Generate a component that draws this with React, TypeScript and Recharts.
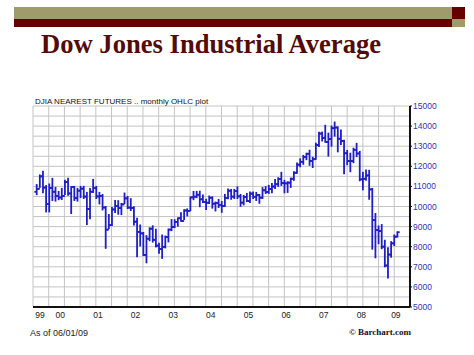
import { ComposedChart, Bar, XAxis, YAxis, CartesianGrid } from 'recharts';

// monthly OHLC, DJIA nearest futures, Nov 1999 - Jun 2009
const months = [
  '1999-11', '1999-12',
  '2000-01', '2000-02', '2000-03', '2000-04', '2000-05', '2000-06', '2000-07', '2000-08', '2000-09', '2000-10', '2000-11', '2000-12',
  '2001-01', '2001-02', '2001-03', '2001-04', '2001-05', '2001-06', '2001-07', '2001-08', '2001-09', '2001-10', '2001-11', '2001-12',
  '2002-01', '2002-02', '2002-03', '2002-04', '2002-05', '2002-06', '2002-07', '2002-08', '2002-09', '2002-10', '2002-11', '2002-12',
  '2003-01', '2003-02', '2003-03', '2003-04', '2003-05', '2003-06', '2003-07', '2003-08', '2003-09', '2003-10', '2003-11', '2003-12',
  '2004-01', '2004-02', '2004-03', '2004-04', '2004-05', '2004-06', '2004-07', '2004-08', '2004-09', '2004-10', '2004-11', '2004-12',
  '2005-01', '2005-02', '2005-03', '2005-04', '2005-05', '2005-06', '2005-07', '2005-08', '2005-09', '2005-10', '2005-11', '2005-12',
  '2006-01', '2006-02', '2006-03', '2006-04', '2006-05', '2006-06', '2006-07', '2006-08', '2006-09', '2006-10', '2006-11', '2006-12',
  '2007-01', '2007-02', '2007-03', '2007-04', '2007-05', '2007-06', '2007-07', '2007-08', '2007-09', '2007-10', '2007-11', '2007-12',
  '2008-01', '2008-02', '2008-03', '2008-04', '2008-05', '2008-06', '2008-07', '2008-08', '2008-09', '2008-10', '2008-11', '2008-12',
  '2009-01', '2009-02', '2009-03', '2009-04', '2009-05', '2009-06',
];

const opens = [
  10730, 10878,
  11500, 10940, 10128, 10922, 10734, 10522, 10448, 10522, 11215, 10651, 10971, 10415,
  10788, 10887, 10495, 9879, 10735, 10912, 10502, 10523, 9950, 8848, 9075, 9852,
  10022, 9920, 10106, 10404, 9946, 9925, 9243, 8737, 8664, 7592, 8397, 8896,
  8342, 8054, 7891, 7992, 8480, 8850, 8985, 9234, 9416, 9275, 9801, 9782,
  10454, 10488, 10584, 10358, 10226, 10188, 10435, 10140, 10174, 10080, 10027, 10428,
  10783, 10490, 10766, 10504, 10193, 10467, 10275, 10641, 10482, 10569, 10440, 10806,
  10718, 10865, 10993, 11109, 11367, 11168, 11150, 11186, 11381, 11679, 12081, 12222,
  12463, 12622, 12269, 12354, 13063, 13628, 13409, 13212, 13358, 13896, 13930, 13372,
  13265, 12650, 12266, 12263, 12820, 12638, 11350, 11378, 11544, 10851, 9325, 8829,
  8776, 8001, 7063, 7609, 8168, 8500,
];

const highs = [
  11090, 11570,
  11750, 11040, 11120, 11400, 10950, 10750, 10900, 11310, 11400, 10990, 11000, 10900,
  11000, 11000, 10700, 10900, 11350, 11000, 10700, 10600, 10000, 9600, 9950, 10300,
  10290, 10150, 10670, 10500, 10390, 9990, 9410, 9080, 8710, 8550, 8940, 9040,
  8870, 8170, 8580, 8530, 8880, 9350, 9340, 9430, 9690, 9840, 9880, 10470,
  10750, 10750, 10760, 10570, 10360, 10520, 10480, 10220, 10350, 10250, 10600, 10870,
  10850, 10850, 10980, 10600, 10550, 10650, 10720, 10720, 10700, 10600, 10940, 10990,
  11050, 11150, 11340, 11430, 11700, 11300, 11230, 11410, 11730, 12170, 12370, 12540,
  12650, 12800, 12450, 13150, 13690, 13700, 14040, 13650, 14000, 14200, 13960, 13800,
  13300, 12790, 12650, 12900, 13140, 12740, 11700, 11810, 11800, 10900, 9650, 9030,
  9100, 8320, 7950, 8250, 8580, 8740,
];

const lows = [
  10590, 10950,
  10680, 9730, 9730, 10300, 10270, 10340, 10350, 10600, 10560, 9650, 10300, 10270,
  10450, 10400, 9100, 9390, 10700, 10400, 10130, 9830, 7920, 8900, 9050, 9700,
  9620, 9600, 10150, 9900, 9800, 9080, 7500, 8040, 7560, 7200, 8300, 8230,
  7990, 7670, 7420, 7940, 8240, 8800, 8950, 9020, 9270, 9350, 9530, 9800,
  10340, 10440, 9990, 10200, 9850, 10150, 9920, 9780, 9950, 9710, 10000, 10380,
  10360, 10400, 10400, 10010, 10080, 10250, 10200, 10400, 10300, 10160, 10400, 10650,
  10650, 10690, 10900, 11000, 11050, 10680, 10700, 10950, 11300, 11650, 11980, 12100,
  12330, 12050, 11940, 12350, 12990, 13260, 13200, 12510, 13000, 13500, 12720, 13080,
  11630, 12080, 11730, 12180, 12480, 11280, 10830, 11300, 10360, 7880, 7450, 8150,
  7900, 7000, 6440, 7480, 8060, 8480,
];

const closes = [
  10878, 11497,
  10940, 10128, 10922, 10734, 10522, 10448, 10522, 11215, 10651, 10971, 10415, 10788,
  10887, 10495, 9879, 10735, 10912, 10502, 10523, 9950, 8848, 9075, 9852, 10022,
  9920, 10106, 10404, 9946, 9925, 9243, 8737, 8664, 7592, 8397, 8896, 8342,
  8054, 7891, 7992, 8480, 8850, 8985, 9234, 9416, 9275, 9801, 9782, 10454,
  10488, 10584, 10358, 10226, 10188, 10435, 10140, 10174, 10080, 10027, 10428, 10783,
  10490, 10766, 10504, 10193, 10467, 10275, 10641, 10482, 10569, 10440, 10806, 10718,
  10865, 10993, 11109, 11367, 11168, 11150, 11186, 11381, 11679, 12081, 12222, 12463,
  12622, 12269, 12354, 13063, 13628, 13409, 13212, 13358, 13896, 13930, 13372, 13265,
  12650, 12266, 12263, 12820, 12638, 11350, 11378, 11544, 10851, 9325, 8829, 8776,
  8001, 7063, 7609, 8168, 8500, 8721,
];

// x axis: months counted from Jan 2000
const yearLabels = ['99', '00', '01', '02', '03', '04', '05', '06', '07', '08', '09'];
const yearLabelPos = [-0.5, 6, 18, 30, 42, 54, 66, 78, 90, 102, 113];
const xDomain = [-2.7, 117.5];
const priceTicks = [5000, 6000, 7000, 8000, 9000, 10000, 11000, 12000, 13000, 14000, 15000];

const data = months.map((m, i) => {
  const [yy, mm] = m.split('-').map(Number);
  return {
    t: (yy - 2000) * 12 + mm - 0.5,
    range: [lows[i], highs[i]],
    open: opens[i],
    close: closes[i],
  };
});

// grid: 24 columns x 20 rows
const vGrid = Array.from({ length: 25 }, (_, i) => xDomain[0] + ((xDomain[1] - xDomain[0]) * i) / 24);
const hGrid = Array.from({ length: 21 }, (_, i) => 5000 + i * 500);

const OhlcBar = (props: any) => {
  const { x, y, width, height, payload } = props;
  const top = Math.min(y, y + height);
  const bottom = Math.max(y, y + height);
  const [lo, hi] = payload.range;
  const toY = (v: number) => (hi === lo ? top : top + ((hi - v) / (hi - lo)) * (bottom - top));
  const cx = x + width / 2;
  const yo = toY(payload.open);
  const yc = toY(payload.close);
  return (
    <g stroke="#1f1fc4" strokeWidth={1.8}>
      <line x1={cx} x2={cx} y1={top - 0.5} y2={bottom + 0.5} />
      <line x1={cx - 2.3} x2={cx} y1={yo} y2={yo} />
      <line x1={cx} x2={cx + 2.3} y1={yc} y2={yc} />
    </g>
  );
};

const sans = '"Liberation Sans", Arial, sans-serif';

export default function App() {
  return (
    <div style={{ position: 'absolute', left: 0, top: 0, width: 474, height: 355, background: '#fff' }}>
      <ComposedChart
        width={474}
        height={355}
        data={data}
        margin={{ top: 106, right: 14, bottom: 28, left: 33 }}
      >
        <CartesianGrid
          stroke="#c4c4c4"
          strokeWidth={1}
          horizontalValues={hGrid}
          verticalValues={vGrid}
        />
        <XAxis
          dataKey="t"
          type="number"
          domain={xDomain}
          allowDataOverflow
          ticks={yearLabelPos}
          interval={0}
          tickFormatter={(v: number) => yearLabels[yearLabelPos.indexOf(v)]}
          tickLine={false}
          tickSize={2}
          tickMargin={3}
          height={20}
          axisLine={{ stroke: '#111', strokeWidth: 2.2 }}
          tick={{ fill: '#222', fontSize: 8.5, fontFamily: sans }}
        />
        <XAxis
          xAxisId="top"
          orientation="top"
          type="number"
          domain={xDomain}
          allowDataOverflow
          tick={false}
          tickLine={false}
          height={0}
          axisLine={{ stroke: '#222', strokeWidth: 1.5 }}
        />
        <YAxis
          orientation="right"
          type="number"
          domain={[5000, 15000]}
          allowDataOverflow
          ticks={priceTicks}
          interval={0}
          width={50}
          tickSize={2}
          tickMargin={1}
          tickLine={{ stroke: '#111' }}
          axisLine={{ stroke: '#111', strokeWidth: 2 }}
          tick={{ fill: '#3434b4', fontSize: 8.5, fontFamily: sans, textAnchor: 'start' }}
        />
        <YAxis
          yAxisId="left"
          orientation="left"
          type="number"
          domain={[5000, 15000]}
          allowDataOverflow
          tick={false}
          tickLine={false}
          width={0}
          axisLine={{ stroke: '#111', strokeWidth: 2.2 }}
        />
        <Bar dataKey="range" barSize={3} shape={OhlcBar} isAnimationActive={false} />
      </ComposedChart>
      <svg
        width={474}
        height={355}
        style={{ position: 'absolute', left: 0, top: 0, pointerEvents: 'none' }}
      >
        <rect x={14} y={7} width={438} height={12} fill="#9f9b6b" />
        <rect x={14} y={19} width={438} height={8} fill="#660000" />
        <rect x={452} y={7} width={13} height={12} fill="#660000" />
        <rect x={452} y={19} width={13} height={8} fill="#9f9b6b" />
        <text
          x={41}
          y={53}
          fill="#520a0a"
          fontSize={26.6}
          fontWeight="bold"
          fontFamily='"Liberation Serif", "Times New Roman", serif'
        >
          Dow Jones Industrial Average
        </text>
        <text x={35} y={104} fill="#111" fontSize={8} fontFamily={sans}>
          DJIA NEAREST FUTURES .. monthly OHLC plot
        </text>
        <text x={30} y={336} fill="#222" fontSize={9} fontFamily={sans}>
          As of 06/01/09
        </text>
        <text
          x={349}
          y={335}
          fill="#111"
          fontSize={9}
          fontWeight="bold"
          fontFamily='"Liberation Serif", "Times New Roman", serif'
        >
          © Barchart.com
        </text>
      </svg>
    </div>
  );
}
